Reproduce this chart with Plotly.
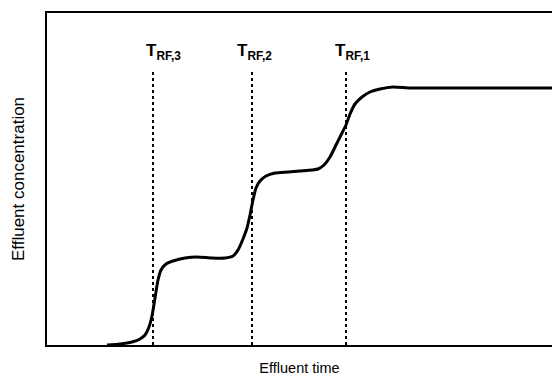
import plotly.graph_objects as go

# Effluent breakthrough curve (arbitrary units)
time = [60, 73, 85, 93, 98, 102, 105, 108, 111, 114, 119, 126, 138, 150, 165, 178,
        186, 191, 196, 200, 203, 206, 209, 213, 219, 228, 241, 253, 265, 271, 277,
        283, 289, 295, 299, 303, 308, 315, 323, 333, 346, 363, 393, 433, 505]
conc = [0, 1, 3, 6, 10, 18, 29, 47, 65, 75, 81, 84, 87, 88, 87, 87,
        89, 95, 106, 117, 130, 145, 157, 164, 169, 172, 173, 174, 175, 176, 180,
        188, 200, 212, 220, 231, 241, 248, 253, 256, 258, 257, 257, 257, 257]

front_times = [106, 205, 299]
front_labels = ["<b>T<sub>RF,3</sub></b>", "<b>T<sub>RF,2</sub></b>", "<b>T<sub>RF,1</sub></b>"]
label_x = [116, 207, 305]
marker_top = 273
label_y = 293

FONT = "Arial, Liberation Sans, sans-serif"

fig = go.Figure()
for t in front_times:
    fig.add_trace(go.Scatter(x=[t, t], y=[0, marker_top], mode="lines",
                             line=dict(color="black", width=2, dash="dot"),
                             showlegend=False, hoverinfo="skip"))
fig.add_trace(go.Scatter(x=time, y=conc, mode="lines",
                         line=dict(color="black", width=3, shape="spline", smoothing=0.6),
                         showlegend=False))

for lx, lab in zip(label_x, front_labels):
    fig.add_annotation(x=lx, y=label_y, text=lab, showarrow=False,
                       xanchor="center", yanchor="middle",
                       font=dict(family=FONT, size=17, color="black"))

fig.update_layout(
    width=552, height=376,
    margin=dict(l=47, r=0, t=13, b=31),
    plot_bgcolor="white", paper_bgcolor="white",
    font=dict(family=FONT, color="black"),
    xaxis=dict(range=[0, 505], showgrid=False, zeroline=False, showticklabels=False,
               ticks="", showline=True, linecolor="black", linewidth=2, mirror=True,
               title=dict(text="Effluent time", font=dict(size=14.5), standoff=17)),
    yaxis=dict(range=[0, 332], showgrid=False, zeroline=False, showticklabels=False,
               ticks="", showline=True, linecolor="black", linewidth=2,
               title=dict(text="Effluent concentration", font=dict(size=17), standoff=16)),
)
fig.write_html("out.html")
